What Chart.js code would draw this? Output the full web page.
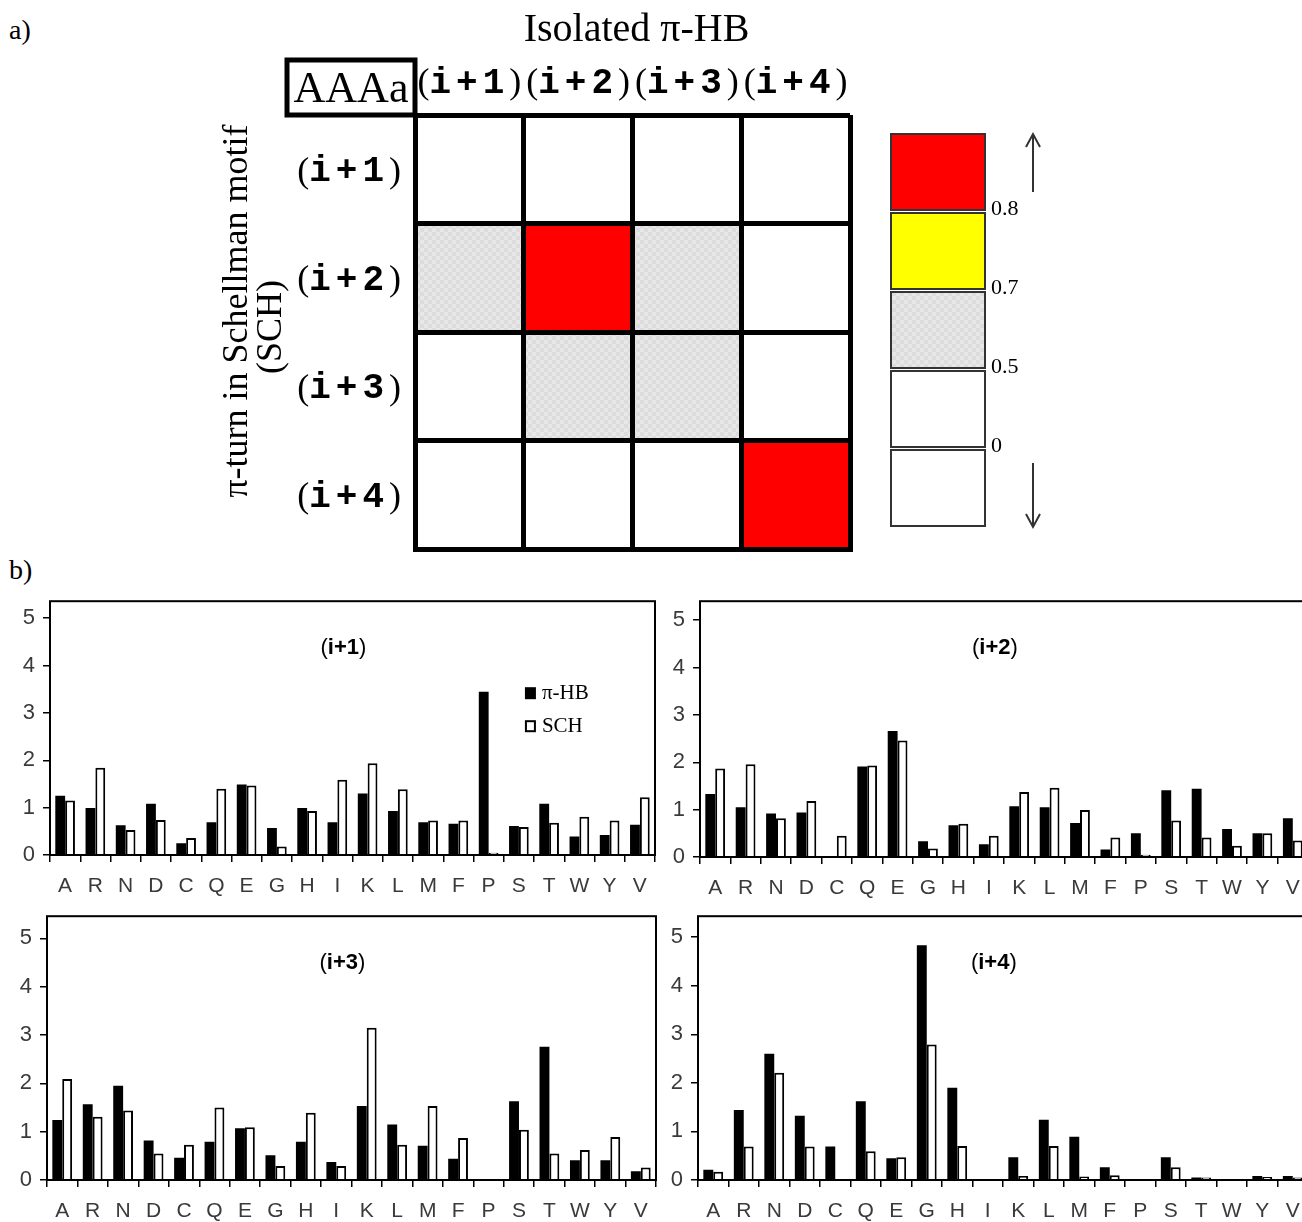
<!DOCTYPE html>
<html><head><meta charset="utf-8">
<script src="https://cdn.jsdelivr.net/npm/chart.js@4/dist/chart.umd.min.js"></script>
<style>
html,body{margin:0;padding:0;background:#fff;overflow:hidden;width:1302px;height:1222px;position:relative}
.box{position:absolute}
.lbl{position:absolute;font-family:'Liberation Serif','Times New Roman',serif;color:#000;font-size:28px;line-height:1}
canvas{display:block}
</style></head><body>
<div class="lbl" style="left:9px;top:16px">a)</div>
<div class="lbl" style="left:9px;top:556px">b)</div>
<div class="box" style="left:0;top:0"><canvas id="heat" width="1302" height="560"></canvas></div>
<div class="box" style="left:0;top:580px"><canvas id="p1" width="660" height="320"></canvas></div>
<div class="box" style="left:650px;top:580px"><canvas id="p2" width="670" height="320"></canvas></div>
<div class="box" style="left:0;top:895px"><canvas id="p3" width="660" height="327"></canvas></div>
<div class="box" style="left:650px;top:895px"><canvas id="p4" width="670" height="327"></canvas></div>
<script>
// ---------- data ----------
const residues = ['A','R','N','D','C','Q','E','G','H','I','K','L','M','F','P','S','T','W','Y','V'];
const seriesNames = ['π-HB','SCH'];
const piHB_i1 = [1.25,0.99,0.63,1.08,0.25,0.69,1.49,0.57,0.99,0.69,1.30,0.93,0.69,0.66,3.45,0.61,1.08,0.39,0.42,0.64];
const sch_i1  = [1.15,1.84,0.53,0.74,0.36,1.40,1.47,0.18,0.93,1.59,1.94,1.39,0.73,0.73,0.05,0.59,0.68,0.81,0.73,1.22];
const piHB_i2 = [1.33,1.05,0.92,0.94,0,1.91,2.66,0.33,0.67,0.27,1.07,1.05,0.72,0.16,0.50,1.41,1.44,0.59,0.50,0.82];
const sch_i2  = [1.87,1.96,0.82,1.18,0.45,1.93,2.46,0.18,0.70,0.45,1.37,1.46,0.99,0.41,0.05,0.77,0.41,0.24,0.50,0.35];
const piHB_i3 = [1.24,1.57,1.95,0.82,0.46,0.79,1.07,0.51,0.79,0.37,1.53,1.15,0.71,0.44,0,1.63,2.76,0.41,0.41,0.18];
const sch_i3  = [2.09,1.31,1.44,0.55,0.73,1.50,1.09,0.29,1.39,0.29,3.15,0.73,1.53,0.87,0,1.04,0.55,0.62,0.89,0.26];
const piHB_i4 = [0.21,1.44,2.60,1.32,0.69,1.62,0.45,4.83,1.90,0,0.47,1.24,0.89,0.26,0,0.47,0.05,0,0.08,0.08];
const sch_i4  = [0.17,0.69,2.21,0.69,0,0.59,0.47,2.79,0.70,0,0.08,0.70,0.07,0.10,0,0.26,0.05,0,0.06,0.05];
const yTicks = [0,1,2,3,4,5];

const turnPositions = ['i+1','i+2','i+3','i+4'];
// rows: π-turn position in Schellman motif (SCH); columns: isolated π-HB position
const heatLevels = [
  ['low','low','low','low'],
  ['mid','high','mid','low'],
  ['low','mid','mid','low'],
  ['low','low','low','high']
];
const legendBins = ['high','upper','mid','low','neg'];
const legendThresholds = ['0.8','0.7','0.5','0'];
const heatTitle = 'Isolated π-HB';
const heatCorner = 'AAAa';
const heatYTitle = ['π-turn in Schellman motif','(SCH)'];

// ---------- styles ----------
Chart.defaults.animation = false;
Chart.defaults.font.family = "'Liberation Sans', Arial, sans-serif";
const SERIF = "'Liberation Serif','Times New Roman',serif";
const MONO = "'Liberation Mono','Courier New',monospace";

function grayPattern(){
  const c = document.createElement('canvas'); c.width = 8; c.height = 8;
  const g = c.getContext('2d');
  g.fillStyle = '#e7e7e7'; g.fillRect(0,0,8,8);
  g.fillStyle = '#dcdcdc'; g.fillRect(0,0,4,4); g.fillRect(4,4,4,4);
  return document.getElementById('heat').getContext('2d').createPattern(c,'repeat');
}
const GRAY = grayPattern();
const levelColor = {high:'#ff0000', upper:'#ffff00', mid:GRAY, low:'#ffffff', neg:'#ffffff'};

// ---------- bar panels ----------
const panelDecor = {
  id:'panelDecor',
  afterDatasetsDraw(chart, args, o){
    const ctx = chart.ctx, ca = chart.chartArea;
    ctx.save();
    ctx.strokeStyle = '#000'; ctx.lineWidth = 2;
    ctx.strokeRect(ca.left, ca.top, ca.right-ca.left, ca.bottom-ca.top);
    const cx = ca.left + 0.485*(ca.right-ca.left), cy = ca.top + 47;
    const parts = [['(', "22px 'Liberation Sans', Arial"],[o.title, "bold 22px 'Liberation Sans', Arial"],[')', "22px 'Liberation Sans', Arial"]];
    let tw = 0; parts.forEach(p=>{ctx.font=p[1]; tw += ctx.measureText(p[0]).width;});
    let x = cx - tw/2; ctx.fillStyle = '#000'; ctx.textBaseline = 'middle'; ctx.textAlign = 'left';
    parts.forEach(p=>{ctx.font=p[1]; ctx.fillText(p[0], x, cy); x += ctx.measureText(p[0]).width;});
    if (o.legend){
      const lx = ca.left + 0.785*(ca.right-ca.left);
      chart.data.datasets.forEach((ds,i)=>{
        const ly = ca.top + 92 + i*33;
        if (i===0){ ctx.fillStyle='#000'; ctx.fillRect(lx, ly-6, 11, 12); }
        else { ctx.fillStyle='#fff'; ctx.fillRect(lx, ly-6, 11, 12); ctx.lineWidth=2; ctx.strokeStyle='#000'; ctx.strokeRect(lx+1, ly-5, 9, 10); }
        ctx.fillStyle = '#000'; ctx.font = '21px ' + SERIF; ctx.textBaseline='middle';
        ctx.fillText(ds.label, lx + 17, ly);
      });
    }
    ctx.restore();
  }
};

function barPanel(id, hb, sch, geo, title, legend){
  return new Chart(document.getElementById(id), {
    type:'bar',
    data:{ labels: residues, datasets:[
      {label: seriesNames[0], data: hb, backgroundColor:'#000', borderColor:'#000', borderWidth:0},
      {label: seriesNames[1], data: sch, backgroundColor:'#fff', borderColor:'#000', borderWidth:2, borderSkipped:'start'}
    ]},
    options:{
      responsive:false, devicePixelRatio:1,
      layout:{padding:{left:0, top:geo.top, right:geo.right, bottom:0}},
      datasets:{bar:{categoryPercentage:0.65, barPercentage:1}},
      plugins:{legend:{display:false}, tooltip:{enabled:false}, panelDecor:{title, legend}},
      scales:{
        x:{ offset:true,
            grid:{offset:true, drawOnChartArea:false, drawTicks:true, tickLength:7, color:'#000', lineWidth:1.5},
            border:{display:false},
            ticks:{color:'#3a3a3a', font:{size:21}, padding:12, autoSkip:false, maxRotation:0},
            afterFit(s){ s.height = geo.axisH; } },
        y:{ min:0, max:geo.ymax,
            grid:{drawOnChartArea:false, drawTicks:true, tickLength:7, color:'#000', lineWidth:1.5},
            border:{display:false},
            ticks:{color:'#3a3a3a', font:{size:22}, padding:8},
            afterBuildTicks(s){ s.ticks = yTicks.map(v=>({value:v})); },
            afterFit(s){ s.width = geo.axisW; } }
      }
    },
    plugins:[panelDecor]
  });
}
barPanel('p1', piHB_i1, sch_i1, {top:11, right:5, axisW:50, axisH:45, ymax:5.36}, 'i+1', true);
barPanel('p2', piHB_i2, sch_i2, {top:11, right:12, axisW:50, axisH:43, ymax:5.40}, 'i+2', false);
barPanel('p3', piHB_i3, sch_i3, {top:14, right:4, axisW:47, axisH:42, ymax:5.46}, 'i+3', false);
barPanel('p4', piHB_i4, sch_i4, {top:15, right:12, axisW:48, axisH:42, ymax:5.43}, 'i+4', false);

// ---------- heat map ----------
function drawTurnLabel(ctx, txt, x, y, align){
  const parts = [['(', '36px '+SERIF, 0],[txt, 'bold 36px '+MONO, 5],[')', '36px '+SERIF, 0]];
  let tw = 0;
  parts.forEach(p=>{ ctx.font=p[1]; ctx.letterSpacing = p[2]+'px'; tw += ctx.measureText(p[0]).width; });
  let sx = align==='right' ? x - tw : x - tw/2;
  parts.forEach(p=>{ ctx.font=p[1]; ctx.letterSpacing = p[2]+'px'; ctx.fillText(p[0], sx, y); sx += ctx.measureText(p[0]).width; });
  ctx.letterSpacing = '0px';
}
const heatDecor = {
  id:'heatDecor',
  afterDraw(chart){
    const ctx = chart.ctx, ca = chart.chartArea, xs = chart.scales.x, ys = chart.scales.y;
    ctx.save();
    ctx.fillStyle = '#000'; ctx.textBaseline = 'middle'; ctx.textAlign = 'left';
    ctx.font = '40px '+SERIF; ctx.textAlign='center';
    ctx.fillText(heatTitle, (ca.left+ca.right)/2 + 4, ca.top - 85);
    ctx.textAlign='left';
    ctx.lineWidth = 5; ctx.strokeStyle = '#000';
    ctx.strokeRect(ca.left-128, ca.top-55, 128, 55);
    ctx.font = '44px '+SERIF; ctx.textAlign='center';
    ctx.fillText(heatCorner, ca.left-64, ca.top-25);
    ctx.textAlign='left';
    turnPositions.forEach((t,i)=>{
      drawTurnLabel(ctx, t, xs.getPixelForValue(i), ca.top - 31, 'center');
      drawTurnLabel(ctx, t, ca.left - 14, ys.getPixelForValue(i+0.5) + 3, 'right');
    });
    ctx.font = '36px '+SERIF; ctx.textAlign='center';
    ctx.save(); ctx.translate(ca.left-177, ca.top+196); ctx.rotate(-Math.PI/2);
    ctx.fillText(heatYTitle[0], 0, 0); ctx.restore();
    ctx.save(); ctx.translate(ca.left-143, ca.top+212); ctx.rotate(-Math.PI/2);
    ctx.fillText(heatYTitle[1], 0, 0); ctx.restore();
    const kx = ca.right + 41, kw = 94, kh = 76, kgap = 3, ky = ca.top + 19;
    legendBins.forEach((b,i)=>{
      const y = ky + i*(kh+kgap);
      ctx.fillStyle = levelColor[b]; ctx.fillRect(kx, y, kw, kh);
      ctx.lineWidth = 2; ctx.strokeStyle = '#333'; ctx.strokeRect(kx, y, kw, kh);
    });
    ctx.fillStyle = '#000'; ctx.font = '22px '+SERIF; ctx.textAlign='left';
    legendThresholds.forEach((t,i)=>{
      const y = ky + (i+1)*(kh+kgap) - kgap/2;
      ctx.fillText(t, kx + kw + 6, y - 2);
    });
    const ax = kx + kw + 48;
    ctx.strokeStyle = '#333'; ctx.lineWidth = 2;
    const top1 = ky, bot1 = ky + 58, top2 = ky + 4*(kh+kgap) + 13, bot2 = ky + 5*(kh+kgap) - 2;
    ctx.beginPath();
    ctx.moveTo(ax, bot1); ctx.lineTo(ax, top1);
    ctx.moveTo(ax-7, top1+13); ctx.lineTo(ax, top1); ctx.lineTo(ax+7, top1+13);
    ctx.moveTo(ax, top2); ctx.lineTo(ax, bot2);
    ctx.moveTo(ax-7, bot2-13); ctx.lineTo(ax, bot2); ctx.lineTo(ax+7, bot2-13);
    ctx.stroke();
    ctx.restore();
  }
};
new Chart(document.getElementById('heat'), {
  type:'bar',
  data:{ labels: turnPositions, datasets: heatLevels.map((row,r)=>({
    label: turnPositions[r], data: row.map(()=>1),
    backgroundColor: row.map(l=>levelColor[l]), borderWidth:0, stack:'cells'
  }))},
  options:{
    responsive:false, devicePixelRatio:1,
    layout:{padding:{left:415, top:115, right:1302-850, bottom:560-549}},
    datasets:{bar:{categoryPercentage:1, barPercentage:1}},
    plugins:{legend:{display:false}, tooltip:{enabled:false}},
    scales:{
      x:{ stacked:true, offset:true,
          grid:{offset:true, color:'#000', lineWidth:5, drawTicks:false, z:1},
          border:{display:true, color:'#000', width:5, z:1},
          ticks:{display:false}, afterFit(s){ s.height = 0; } },
      y:{ stacked:true, min:0, max:4, reverse:true,
          grid:{color:'#000', lineWidth:5, drawTicks:false, z:1},
          border:{display:true, color:'#000', width:5, z:1},
          ticks:{display:false, stepSize:1}, afterFit(s){ s.width = 0; } }
    }
  },
  plugins:[heatDecor]
});
</script>
</body></html>
